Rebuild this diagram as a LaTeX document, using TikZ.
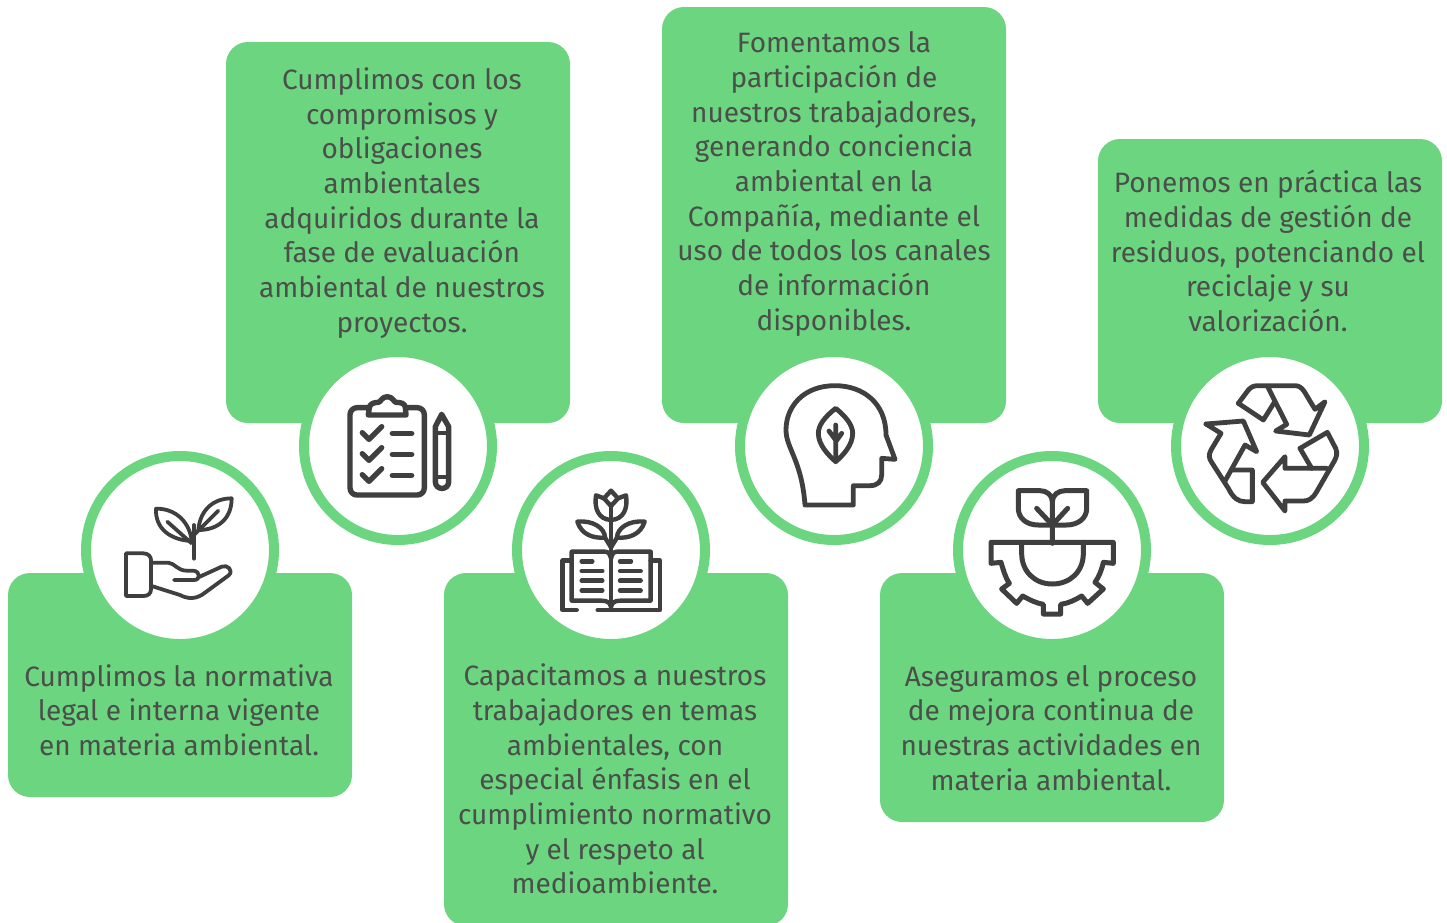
\documentclass[tikz,border=0pt]{standalone}
\usepackage{fontspec}
\setmainfont{Fira Sans}
\definecolor{gr}{HTML}{6CD580}
\definecolor{ink}{HTML}{3F3F3F}
\definecolor{txt}{HTML}{4A4F4A}
\tikzset{
 panel/.style={fill=gr,draw=none,rounded corners=22pt},
 ring/.style={circle,fill=white,draw=gr,line width=10pt,minimum size=188pt,inner sep=0pt},
 copy/.style={text=txt,align=center,inner sep=0pt,font=\fontsize{28}{34.7}\selectfont},
 ico/.style={draw=ink,line width=#1,line cap=round,line join=round},
 zoomed/.style={x=.33333pt,y=-.33333pt}
}
\begin{document}
\begin{tikzpicture}[x=1pt,y=-1pt]
\useasboundingbox (0,0) rectangle (1447,922);
\fill[panel] (8,573) rectangle (352,797);
\fill[panel] (226,42) rectangle (570,423);
\fill[panel] (662,7) rectangle (1006,423);
\fill[panel] (444,573) rectangle (788,926);
\fill[panel] (880,573) rectangle (1224,822);
\fill[panel] (1098,139) rectangle (1442,423);
\node[ring] (c1) at (180,550) {};
\node[ring] (c2) at (398,446) {};
\node[ring] (c3) at (611,550) {};
\node[ring] (c4) at (834,446) {};
\node[ring] (c5) at (1052,550) {};
\node[ring] (c6) at (1270,446) {};
\node[copy] (t1) at (179,710) {Cumplimos la normativa\\legal e interna vigente\\en materia ambiental.};
\node[copy] (t2) at (402,203) {Cumplimos con los\\compromisos y\\obligaciones\\ambientales\\adquiridos durante la\\fase de evaluación\\ambiental de nuestros\\proyectos.};
\node[copy] (t3) at (834,184) {Fomentamos la\\participación de\\nuestros trabajadores,\\generando conciencia\\ambiental en la\\Compañía, mediante el\\uso de todos los canales\\de información\\disponibles.};
\node[copy] (t4) at (615,779) {Capacitamos a nuestros\\trabajadores en temas\\ambientales, con\\especial énfasis en el\\cumplimiento normativo\\y el respeto al\\medioambiente.};
\node[copy] (t5) at (1051,728) {Aseguramos el proceso\\de mejora continua de\\nuestras actividades en\\materia ambiental.};
\node[copy] (t6) at (1268,251) {Ponemos en práctica las\\medidas de gestión de\\residuos, potenciando el\\reciclaje y su\\valorización.};
% icon 1
\begin{scope}[shift={(90,460)},zoomed,ico=3.8pt]
\draw (108,280) -- (160,280) .. controls (175,280) and (183,290) .. (183,300) -- (183,388) .. controls (183,400) and (175,408) .. (160,408) -- (108,408) -- cycle;
\draw (185,308) -- (235,308) .. controls (255,310) and (262,332) .. (290,332) -- (310,332) .. controls (332,334) and (332,360) .. (312,360) -- (252,360);
\draw (325,352) -- (395,320) .. controls (412,312) and (432,332) .. (416,346) -- (345,398) .. controls (320,418) and (295,418) .. (270,405) -- (185,378);
\draw (312,195) -- (312,296);
\draw (198,146) .. controls (260,145) and (300,190) .. (305,243) .. controls (240,240) and (195,205) .. (198,146) -- cycle;
\draw (232,185) -- (305,250);
\draw (425,115) .. controls (370,115) and (330,150) .. (325,210) .. controls (385,210) and (425,175) .. (425,115) -- cycle;
\draw (385,152) -- (312,225);
\end{scope}
% icon 2
\begin{scope}[shift={(310,370)},zoomed,ico=5.4pt]
\draw[rounded corners=7pt] (120,113) rectangle (343,375);
\draw[fill=white] (175,135) -- (178,112) .. controls (180,100) and (195,97) .. (205,97) .. controls (212,97) and (215,80) .. (232,80) .. controls (248,80) and (252,97) .. (258,97) .. controls (272,97) and (285,100) .. (286,112) -- (288,135) -- cycle;
\foreach \d in {0,63,126} {
\draw (157,188+\d) -- (177,208+\d) -- (215,170+\d);
\draw (247,190+\d) -- (305,190+\d);
}
\draw (376,170) -- (395,133) -- (416,170) -- (416,335) .. controls (416,362) and (376,362) .. (376,335) -- cycle;
\draw[line width=3.8pt] (376,190) -- (416,190) (376,320) -- (416,320);
\fill[ink] (376,172) -- (395,133) -- (416,172) -- (403,160) -- (395,150) -- (387,160) -- cycle;
\end{scope}
% icon 3
\begin{scope}[shift={(530,470)},zoomed,ico=4.4pt]
\draw (243,108) -- (243,420);
\draw (222,85) -- (243,62) -- (264,85) -- (243,108) -- cycle;
\draw (222,85) -- (198,76) .. controls (192,115) and (205,148) .. (243,150) .. controls (281,148) and (294,115) .. (288,76) -- (264,85);
\draw (142,155) .. controls (190,150) and (225,175) .. (225,203) .. controls (190,205) and (155,195) .. (142,155) -- cycle;
\draw (225,203) -- (243,232);
\draw (344,155) .. controls (296,150) and (261,175) .. (261,203) .. controls (296,205) and (331,195) .. (344,155) -- cycle;
\draw (261,203) -- (243,232);
\draw (243,265) .. controls (240,252) and (235,245) .. (225,245) -- (125,245) -- (125,392) -- (215,392) .. controls (232,392) and (240,398) .. (243,410);
\draw (243,265) .. controls (246,252) and (251,245) .. (261,245) -- (362,245) -- (362,392) -- (271,392) .. controls (254,392) and (246,398) .. (243,410);
\draw (125,272) -- (98,272) -- (98,420) -- (140,420);
\draw (203,420) -- (390,420) -- (390,272) -- (362,272);
\draw (155,274) -- (187,274) (155,303) -- (217,303) (155,332) -- (217,332) (155,361) -- (217,361);
\draw (270,274) -- (303,274) (270,303) -- (332,303) (270,332) -- (332,332) (270,361) -- (332,361);
\end{scope}
% icon 4
\begin{scope}[shift={(760,370)},zoomed,ico=4.8pt]
\draw (135,405) -- (280,405) -- (280,347) -- (330,347) .. controls (352,347) and (365,335) .. (365,315) -- (365,265) -- (405,268) -- (378,195) .. controls (378,100) and (310,47) .. (225,47) .. controls (130,47) and (78,110) .. (78,180) .. controls (78,235) and (125,270) .. (135,405) -- cycle;
\draw (227,115) .. controls (195,140) and (175,165) .. (175,190) .. controls (175,225) and (205,255) .. (227,275) .. controls (250,255) and (278,225) .. (278,190) .. controls (278,165) and (258,140) .. (227,115) -- cycle;
\draw (227,165) -- (227,260) (207,183) -- (227,210) (245,190) -- (227,215);
\end{scope}
% icon 5
\begin{scope}[shift={(975,475)},zoomed,ico=5pt]
\draw (232,80) .. controls (232,60) and (215,47) .. (195,47) -- (130,47) -- (130,100) .. controls (130,130) and (155,150) .. (190,150) -- (274,150) .. controls (309,150) and (335,130) .. (335,100) -- (335,47) -- (270,47) .. controls (250,47) and (232,60) .. (232,80) -- cycle;
\draw (232,80) -- (232,205) (185,100) -- (232,150) (278,100) -- (232,150);
\draw (48,202) -- (48,265) -- (78,262) .. controls (85,285) and (90,305) .. (103,325) -- (80,342) -- (125,385) -- (143,363) .. controls (165,375) and (185,385) .. (205,388) -- (205,417) -- (257,417) -- (257,388) .. controls (280,385) and (300,375) .. (320,363) -- (338,385) -- (385,342) -- (360,322) .. controls (372,305) and (380,285) .. (385,262) -- (415,265) -- (415,202) -- cycle;
\draw (140,202) -- (140,235) .. controls (140,290) and (180,327) .. (232,327) .. controls (285,327) and (325,290) .. (325,235) -- (325,202);
\end{scope}
% icon 6
\begin{scope}[shift={(1195,375)},zoomed,ico=4.8pt]
\draw (130,85) -- (160,45) .. controls (168,36) and (175,32) .. (190,32) -- (300,32) .. controls (312,32) and (320,38) .. (328,50) -- (360,103) -- (390,80) -- (343,180) -- (242,168) -- (275,148) -- (218,35);
\draw (130,85) -- (205,135) -- (238,82);
\draw (33,147) -- (145,138) -- (185,230) -- (150,210) -- (90,318);
\draw (33,147) -- (78,175) -- (48,225) .. controls (40,240) and (42,250) .. (50,262) -- (100,340) .. controls (115,370) and (130,380) .. (150,380) -- (172,380) -- (172,285) -- (110,285);
\draw (315,220) -- (397,172) -- (422,220) .. controls (428,235) and (425,245) .. (418,258) -- (365,350) .. controls (352,372) and (340,378) .. (325,378) -- (270,378) -- (270,408) -- (203,322) -- (270,245) -- (270,280) -- (395,280);
\draw (315,220) -- (350,280);
\end{scope}
\end{tikzpicture}
\end{document}
